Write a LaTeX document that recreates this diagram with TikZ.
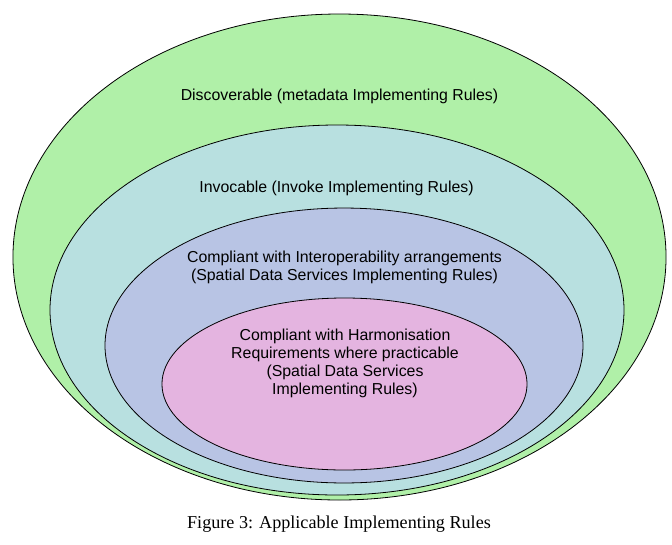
\documentclass[tikz,border=0pt]{standalone}
\usepackage{fontspec}
\setmainfont{Liberation Sans}
\newfontfamily\capfont{Liberation Serif}
\usetikzlibrary{shapes.geometric}
\definecolor{cgreen}{RGB}{176,240,168}
\definecolor{ccyan}{RGB}{184,224,224}
\definecolor{cblue}{RGB}{184,196,228}
\definecolor{cpink}{RGB}{228,180,224}
\tikzset{
  ring/.style={draw=black, line width=0.6pt},
  lbl/.style={align=center, font=\fontsize{11.9pt}{13.5pt}\selectfont, inner sep=0pt, text=black},
  captext/.style={font=\capfont\fontsize{13.6pt}{16pt}\selectfont, inner sep=0pt}
}
\begin{document}
\begin{tikzpicture}[x=0.75pt,y=-0.75pt]
\useasboundingbox (0,0) rectangle (672,544);
\fill[white] (0,0) rectangle (672,544);
\filldraw[ring, fill=cgreen] (339.5,257) ellipse [x radius=244.9pt, y radius=182.25pt];
\filldraw[ring, fill=ccyan] (337,310) ellipse [x radius=215.25pt, y radius=138.75pt];
\filldraw[ring, fill=cblue] (344,345.5) ellipse [x radius=179.25pt, y radius=103.1pt];
\filldraw[ring, fill=cpink] (344.5,384) ellipse [x radius=136.9pt, y radius=64.5pt];
\node[lbl] (disc) at (339.5,96) {Discoverable (metadata Implementing Rules)};
\node[lbl] (invo) at (336.5,188) {Invocable (Invoke Implementing Rules)};
\node[lbl] (inter) at (344.5,267) {Compliant with Interoperability arrangements\\(Spatial Data Services Implementing Rules)};
\node[lbl] (harm) at (345,363) {Compliant with Harmonisation\\Requirements where practicable\\(Spatial Data Services\\Implementing Rules)};
\node[captext] (caption) at (339,524) {Figure 3: Applicable Implementing Rules};
\end{tikzpicture}
\end{document}
